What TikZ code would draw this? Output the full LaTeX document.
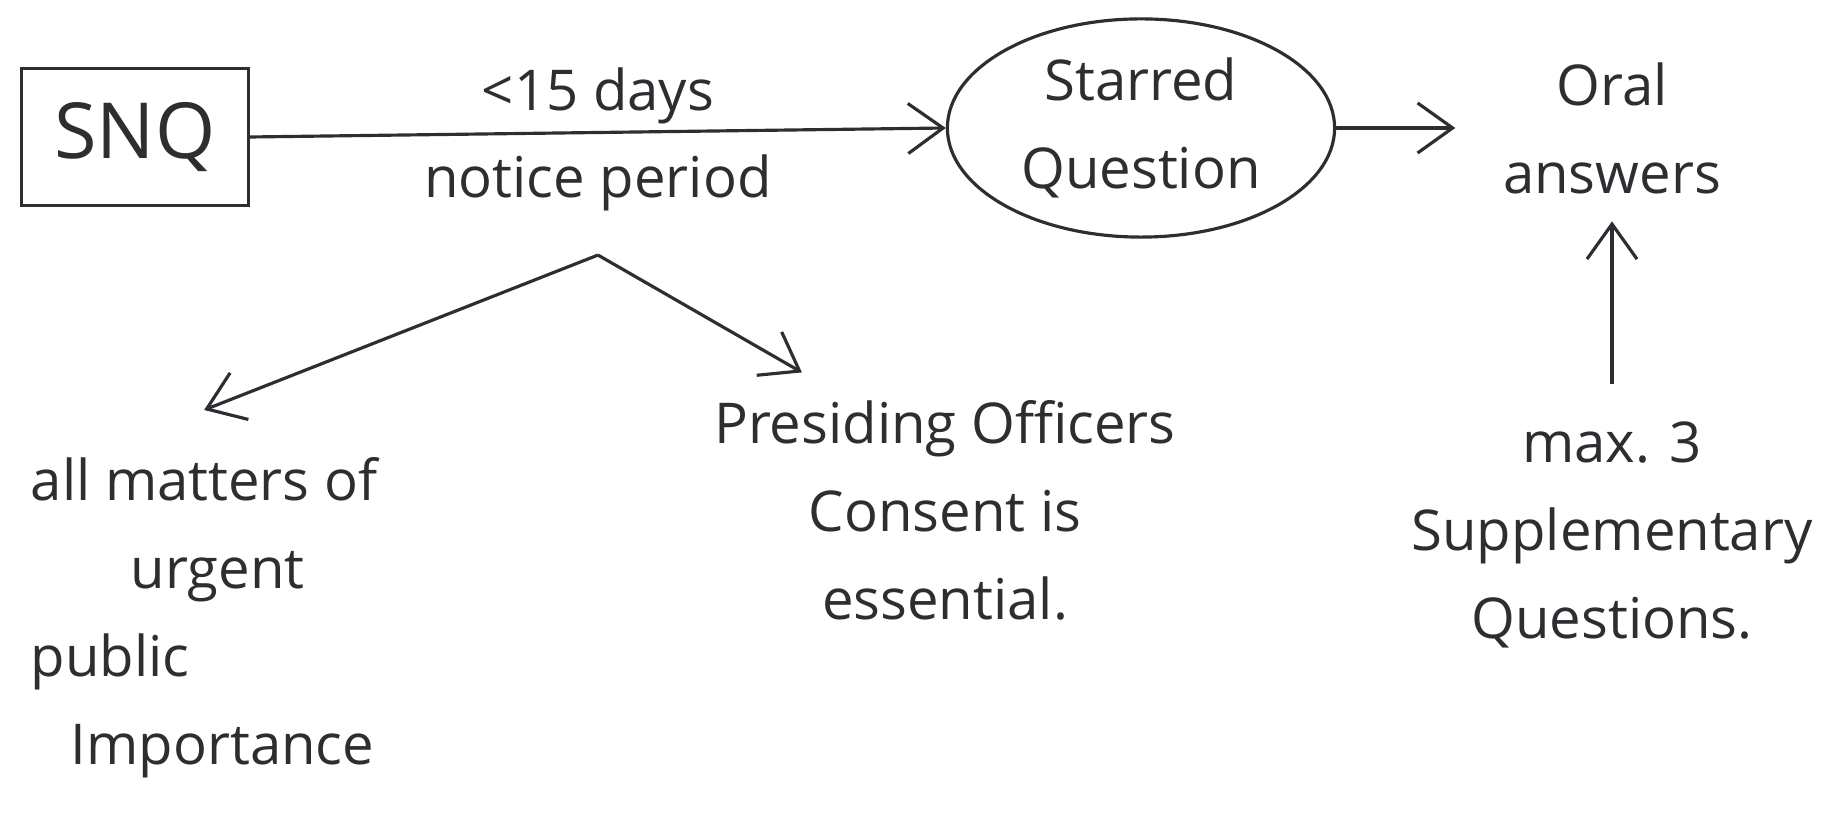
\documentclass[tikz,border=0pt]{standalone}
\usepackage{fontspec}
\setmainfont{Open Sans}
\usetikzlibrary{arrows.meta,positioning,shapes.geometric,calc}
\definecolor{inkgray}{RGB}{45,45,50}

\begin{document}
\begin{tikzpicture}[x=0.01cm,y=-0.01cm,>={Straight Barb[length=3.5mm,width=5mm]},
  ink/.style={line width=0.9pt,draw=inkgray},
  txt/.style={font=\fontsize{16}{25}\selectfont,text=inkgray,align=center,inner sep=2pt}]
  \useasboundingbox (0,0) rectangle (1836,822);
  %% Source box
  \node[ink,txt,font=\fontsize{22}{26}\selectfont,
        minimum width=2.27cm,minimum height=1.37cm] (snq) at (135,137) {SNQ};
  %% Starred question
  \node[ink,txt,ellipse,minimum width=3.87cm,minimum height=2.1cm]
        (starred) at (1141,128) {Starred\\Question};
  %% Oral answers
  \node[txt] (oral) at (1612,128) {Oral\\answers};
  %% Supplementary questions
  \node[txt] (supp) at (1612,535) {max. 3\\Supplementary\\Questions.};
  %% Urgent matters
  \node[txt,align=left,anchor=north west] (urgent) at (23,450)
        {all matters of\\\hspace*{1cm}urgent\\public\\\hspace*{0.4cm}Importance};
  %% Presiding officer
  \node[txt] (officer) at (945,510) {Presiding Officers\\Consent is\\essential.};
  %% Arrows
  \draw[ink,->] (snq.east) -- node[txt,above] (days) {\textless15 days}
        node[txt,below=4pt] (notice) {notice period} (starred.west);
  \draw[ink,->] (starred.east) -- ([xshift=-4mm]oral.west);
  \draw[ink,->,shorten <=3mm,shorten >=2mm] (supp.north) -- (supp.north|-oral.south);
  \coordinate (fork) at ($(notice.south)+(0,35)$);
  \draw[ink,->] (fork) -- ([yshift=4mm]urgent.north);
  \draw[ink,->] (fork) -- ($(officer.north west)!0.2!(officer.north east)+(0,-20)$);
\end{tikzpicture}
\end{document}
